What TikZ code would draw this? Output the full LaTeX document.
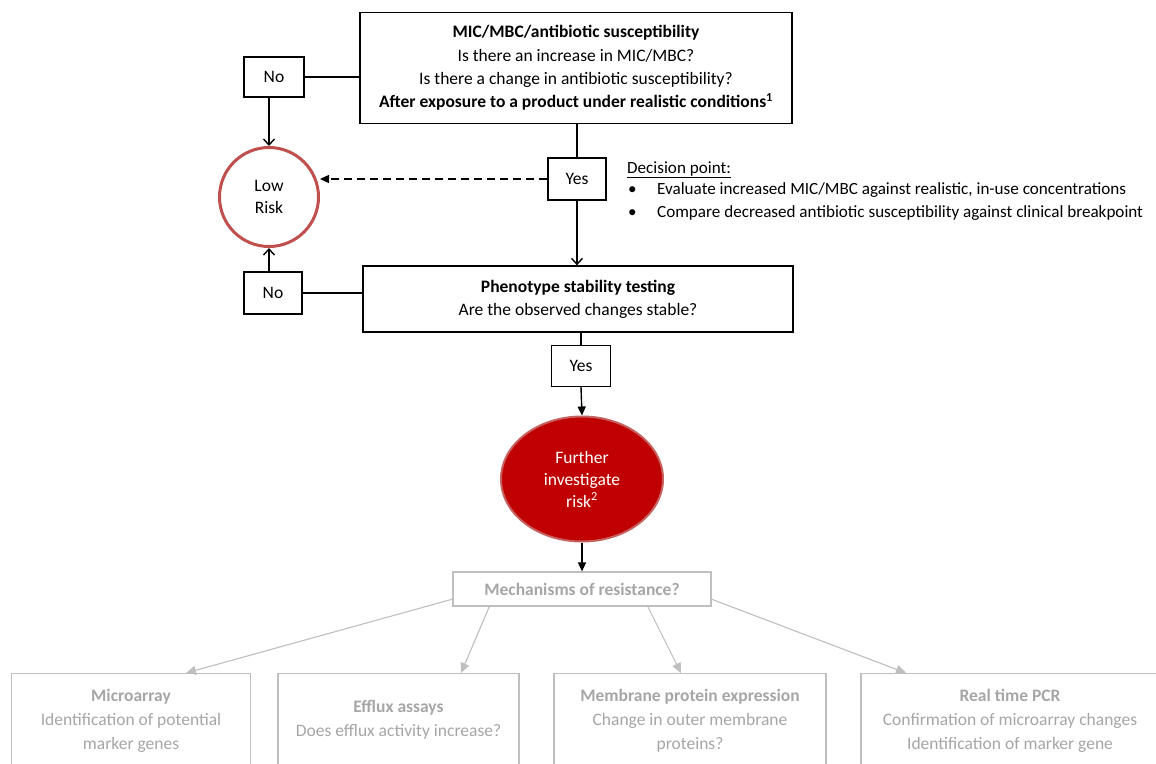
\documentclass[tikz,border=0pt]{standalone}
\usepackage{fontspec}
\setmainfont{Carlito}
\usetikzlibrary{arrows.meta,shapes.geometric}
\definecolor{riskred}{HTML}{C0504D}
\definecolor{darkred}{HTML}{C00000}
\definecolor{lgray}{HTML}{BFBFBF}
\definecolor{tgray}{HTML}{A6A6A6}
\begin{document}
\begin{tikzpicture}[x=1pt,y=-1pt,
  every node/.style={font=\fontsize{17.5}{23.3}\selectfont},
  blackbox/.style={draw=black,line width=1.3pt,align=center,inner sep=0pt},
  smallbox/.style={blackbox,minimum width=57pt,minimum height=41pt},
  conn/.style={line width=1.4pt},
  openarrow/.style={conn,-{Straight Barb[length=6pt,width=11pt]}},
  fillarrow/.style={conn,-{Triangle[length=9pt,width=8pt]}},
  graybox/.style={draw=lgray,line width=1.2pt,inner sep=0pt},
  graytext/.style={text=tgray,align=center,inner sep=0pt,font=\fontsize{17.5}{23.8}\selectfont},
  grayarrow/.style={draw=lgray,line width=1.1pt,-{Triangle[length=10pt,width=9pt]}},
  plain/.style={inner sep=0pt,anchor=west,font=\fontsize{17.1}{22}\selectfont}
]
\useasboundingbox (0,0) rectangle (1156,763);
\fill[white] (0,0) rectangle (1156,763);

% top box
\node[blackbox,minimum width=432pt,minimum height=111pt] (top) at (576,68)
  {\textbf{MIC/MBC/antibiotic susceptibility}\\
   Is there an increase in MIC/MBC?\\
   Is there a change in antibiotic susceptibility?\\
   \textbf{After exposure to a product under realistic conditions\textsuperscript{1}}};

\node[smallbox,minimum width=60pt,minimum height=40pt] (no1) at (274,77) {No};
\node[circle,draw=riskred,line width=3pt,minimum size=99pt,align=center,inner sep=0pt,
  font=\fontsize{17.5}{21.5}\selectfont] (low) at (269,197) {Low\\Risk};
\node[smallbox,minimum width=58pt,minimum height=42pt] (yes1) at (577,179) {Yes};

\node[blackbox,minimum width=430pt,minimum height=66pt] (pheno) at (578,299)
  {\textbf{Phenotype stability testing}\\
   Are the observed changes stable?};
\node[smallbox,minimum width=58pt,minimum height=42pt] (no2) at (273,293) {No};
\node[smallbox,minimum width=59pt,minimum height=41pt] (yes2) at (581,366) {Yes};

\node[ellipse,fill=darkred,draw=riskred!90!white,line width=2pt,minimum width=162pt,minimum height=125pt,
  align=center,text=white,inner sep=0pt,font=\fontsize{17.5}{22}\selectfont] (further) at (582,479)
  {Further\\investigate\\risk\textsuperscript{2}};

% decision point
\node[plain] (dp) at (627,170) {\underline{Decision point:}};
\node[plain] (dp1) at (628,190) {\makebox[29pt][l]{\textbullet}Evaluate increased MIC/MBC against realistic, in-use concentrations};
\node[plain] (dp2) at (628,213) {\makebox[29pt][l]{\textbullet}Compare decreased antibiotic susceptibility against clinical breakpoint};

% connectors
\draw[conn] (no1.east) -- (no1.east -| top.west);
\draw[openarrow] (no1.south -| low.north) -- (low.north);
\draw[conn] (top.south -| yes1.north) -- (yes1.north);
\draw[fillarrow,dashed,dash pattern=on 8pt off 5pt] (yes1.west) -- (yes1.west -| low.east);
\draw[openarrow] (yes1.south) -- (yes1.south |- pheno.north);
\draw[conn] (no2.east) -- (no2.east -| pheno.west);
\draw[openarrow] (no2.north -| low.south) -- (low.south);
\draw[conn] (pheno.south -| yes2.north) -- (yes2.north);
\draw[fillarrow] (yes2.south) -- (further.north);

% gray section
\node[graybox,minimum width=258pt,minimum height=34pt] (mech) at (582,589) {};
\node[graytext] (mecht) at (582,589) {\textbf{Mechanisms of resistance?}};
\draw[fillarrow] (further.south) -- (mech.north);

\node[graybox,minimum width=239pt,minimum height=120pt,anchor=north] (micro) at (131,673) {};
\node[graybox,minimum width=241pt,minimum height=120pt,anchor=north] (efflux) at (398.5,673) {};
\node[graybox,minimum width=272pt,minimum height=120pt,anchor=north] (membr) at (690,673) {};
\node[graybox,minimum width=298pt,minimum height=120pt,anchor=north] (pcr) at (1010,673) {};

\node[graytext] (microt) at (131,721) {\textbf{Microarray}\\Identification of potential\\marker genes};
\node[graytext] (effluxt) at (398.5,720) {\textbf{Efflux assays}\\Does efflux activity increase?};
\node[graytext] (membrt) at (690,721) {\textbf{Membrane protein expression}\\Change in outer membrane\\proteins?};
\node[graytext] (pcrt) at (1010,721) {\textbf{Real time PCR}\\Confirmation of microarray changes\\Identification of marker gene};

\coordinate (m1) at (453,599);
\coordinate (m2) at (490,605);
\coordinate (m3) at (647,605);
\coordinate (m4) at (711,599);
\draw[grayarrow] (m1) -- (micro.north -| 186,0);
\draw[grayarrow] (m2) -- (efflux.north -| 461,0);
\draw[grayarrow] (m3) -- (membr.north -| 681,0);
\draw[grayarrow] (m4) -- (pcr.north -| 906,0);
\end{tikzpicture}
\end{document}
